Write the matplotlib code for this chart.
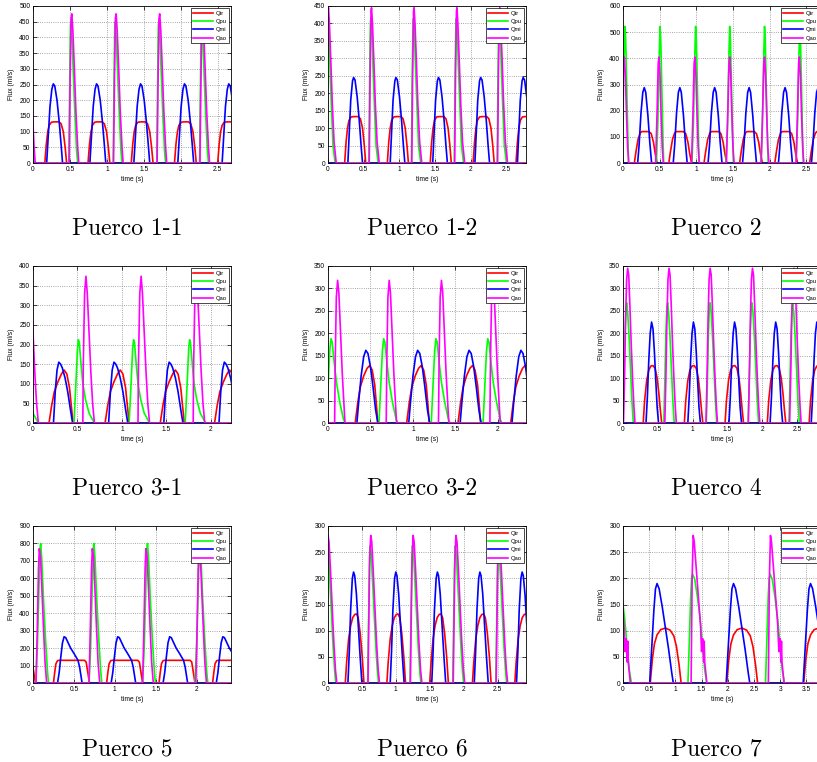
import numpy as np
import matplotlib
matplotlib.use("Agg")
import matplotlib.pyplot as plt
from matplotlib.ticker import FuncFormatter, MultipleLocator

# ---- data: one pulse shape per signal (time from onset, flux) + pulse onsets ----
names = ["Qtr", "Qpu", "Qmi", "Qao"]
colors = ["#ff0000", "#00ff00", "#0000ff", "#ff00ff"]
captions = ["Puerco 1-1", "Puerco 1-2", "Puerco 2",
            "Puerco 3-1", "Puerco 3-2", "Puerco 4",
            "Puerco 5", "Puerco 6", "Puerco 7"]
xmax = [2.68, 2.77, 2.70, 2.225, 2.33, 2.84, 2.42, 2.92, 3.78]
ymax = [500, 450, 600, 400, 350, 350, 900, 300, 300]
ystep = [50, 50, 100, 50, 50, 50, 100, 50, 50]

# Puerco 1-1
p1_tr_t = [0, 0.02, 0.04, 0.06, 0.09, 0.13, 0.19, 0.22, 0.25, 0.275, 0.295]
p1_tr_v = [0, 60, 100, 120, 130, 131, 131, 125, 100, 50, 0]
p1_tr_on = [0.16, 0.745, 1.33, 1.915, 2.50]
p1_pu_t = [0, 0.01, 0.022, 0.03, 0.045, 0.065, 0.085, 0.105, 0.12]
p1_pu_v = [0, 220, 440, 450, 380, 260, 140, 40, 0]
p1_pu_on = [-0.105, 0.485, 1.085, 1.675, 2.255]
p1_mi_t = [0, 0.02, 0.045, 0.07, 0.09, 0.11, 0.14, 0.17, 0.195, 0.215]
p1_mi_v = [0, 80, 180, 235, 252, 245, 200, 130, 60, 0]
p1_mi_on = [0.185, 0.77, 1.365, 1.96, 2.56]
p1_ao_t = [0, 0.012, 0.025, 0.035, 0.05, 0.07, 0.09, 0.115, 0.13]
p1_ao_v = [0, 250, 460, 475, 420, 300, 170, 50, 0]
p1_ao_on = [-0.1, 0.49, 1.09, 1.68, 2.26]

# Puerco 1-2
p2_tr_t = [0, 0.02, 0.04, 0.06, 0.09, 0.13, 0.19, 0.22, 0.25, 0.275, 0.295]
p2_tr_v = [0, 60, 100, 122, 132, 133, 133, 127, 100, 50, 0]
p2_tr_on = [0.233, 0.83, 1.43, 2.03, 2.63]
p2_pu_t = [0, 0.01, 0.022, 0.03, 0.042, 0.06, 0.08, 0.1, 0.13]
p2_pu_v = [0, 230, 405, 415, 370, 260, 150, 50, 0]
p2_pu_on = [-0.03, 0.572, 1.167, 1.767, 2.367]
p2_mi_t = [0, 0.02, 0.04, 0.065, 0.08, 0.1, 0.13, 0.16, 0.185, 0.205]
p2_mi_v = [0, 90, 180, 235, 245, 238, 190, 120, 50, 0]
p2_mi_on = [0.278, 0.87, 1.465, 2.055, 2.65]
p2_ao_t = [0, 0.012, 0.025, 0.032, 0.045, 0.065, 0.085, 0.11, 0.14]
p2_ao_v = [0, 250, 435, 445, 400, 290, 170, 60, 0]
p2_ao_on = [-0.025, 0.577, 1.172, 1.772, 2.372]

# Puerco 2
p3_tr_t = [0, 0.02, 0.05, 0.08, 0.1, 0.2, 0.23, 0.26, 0.285, 0.31]
p3_tr_v = [0, 40, 90, 115, 120, 120, 112, 80, 35, 0]
p3_tr_on = [0.155, 0.625, 1.105, 1.59, 2.07, 2.545]
p3_pu_t = [0, 0.02, 0.04, 0.05, 0.06, 0.075, 0.09, 0.1]
p3_pu_v = [0, 150, 420, 522, 470, 280, 90, 0]
p3_pu_on = [-0.023, 0.455, 0.94, 1.405, 1.88, 2.36]
p3_mi_t = [0, 0.02, 0.045, 0.07, 0.09, 0.11, 0.14, 0.165, 0.19]
p3_mi_v = [0, 70, 190, 270, 288, 270, 180, 80, 0]
p3_mi_on = [0.2, 0.685, 1.16, 1.63, 2.12, 2.57]
p3_ao_t = [0, 0.02, 0.035, 0.045, 0.06, 0.075, 0.09, 0.105]
p3_ao_v = [0, 200, 380, 405, 330, 180, 60, 0]
p3_ao_on = [-0.027, 0.445, 0.935, 1.41, 1.885, 2.36]

# Puerco 3-1
p4_tr_t = [0, 0.03, 0.06, 0.1, 0.14, 0.17, 0.2, 0.23, 0.25, 0.27]
p4_tr_v = [0, 45, 80, 105, 125, 135, 125, 90, 45, 0]
p4_tr_on = [0.18, 0.81, 1.43, 2.04]
p4_pu_t = [0, 0.02, 0.04, 0.05, 0.06, 0.08, 0.1, 0.13, 0.17, 0.23]
p4_pu_v = [0, 90, 190, 212, 205, 150, 100, 60, 25, 0]
p4_pu_on = [-0.17, 0.46, 1.08, 1.71]
p4_mi_t = [0, 0.02, 0.04, 0.06, 0.08, 0.1, 0.13, 0.16, 0.19, 0.215]
p4_mi_v = [0, 80, 135, 155, 150, 140, 115, 80, 35, 0]
p4_mi_on = [0.23, 0.85, 1.47, 2.09]
p4_ao_t = [0, 0.005, 0.02, 0.035, 0.05, 0.07, 0.09, 0.11, 0.13]
p4_ao_v = [0, 150, 330, 374, 330, 230, 130, 50, 0]
p4_ao_on = [-0.07, 0.56, 1.18, 1.80]

# Puerco 3-2
p5_tr_t = [0, 0.03, 0.06, 0.1, 0.14, 0.17, 0.2, 0.23, 0.25, 0.266]
p5_tr_v = [0, 45, 80, 105, 122, 128, 118, 85, 40, 0]
p5_tr_on = [0.32, 0.926, 1.53, 2.15]
p5_pu_t = [0, 0.02, 0.04, 0.055, 0.07, 0.09, 0.12, 0.16, 0.2, 0.22]
p5_pu_v = [0, 80, 160, 188, 180, 140, 90, 45, 10, 0]
p5_pu_on = [-0.02, 0.60, 1.215, 1.825]
p5_mi_t = [0, 0.02, 0.05, 0.08, 0.105, 0.13, 0.16, 0.19, 0.22, 0.246]
p5_mi_v = [0, 45, 105, 148, 162, 155, 125, 80, 30, 0]
p5_mi_on = [0.34, 0.95, 1.555, 2.165]
p5_ao_t = [0, 0.008, 0.02, 0.035, 0.05, 0.07, 0.09, 0.11, 0.122]
p5_ao_v = [0, 150, 280, 318, 290, 200, 110, 40, 0]
p5_ao_on = [0.078, 0.685, 1.30, 1.905]

# Puerco 4
p6_tr_t = [0, 0.02, 0.05, 0.08, 0.11, 0.14, 0.17, 0.2, 0.225, 0.245, 0.265]
p6_tr_v = [0, 50, 95, 118, 127, 128, 122, 100, 65, 30, 0]
p6_tr_on = [0.29, 0.88, 1.464, 2.07, 2.67]
p6_pu_t = [0, 0.015, 0.03, 0.045, 0.055, 0.07, 0.09, 0.11, 0.13, 0.15]
p6_pu_v = [0, 90, 200, 260, 268, 245, 190, 120, 50, 0]
p6_pu_on = [-0.002, 0.585, 1.195, 1.795, 2.38]
p6_mi_t = [0, 0.02, 0.04, 0.06, 0.08, 0.1, 0.12, 0.14, 0.16, 0.18]
p6_mi_v = [0, 60, 140, 200, 225, 210, 160, 95, 35, 0]
p6_mi_on = [0.33, 0.93, 1.52, 2.11, 2.70]
p6_ao_t = [0, 0.015, 0.03, 0.045, 0.06, 0.075, 0.09, 0.11, 0.13, 0.15, 0.165]
p6_ao_v = [0, 100, 230, 320, 345, 330, 270, 180, 100, 35, 0]
p6_ao_on = [0.007, 0.60, 1.19, 1.797, 2.39]

# Puerco 5
p7_tr_t = [0, 0.015, 0.03, 0.05, 0.07, 0.38, 0.4, 0.42, 0.44]
p7_tr_v = [0, 60, 110, 128, 130, 130, 120, 60, 0]
p7_tr_on = [-0.41, 0.25, 0.90, 1.54, 2.195]
p7_pu_t = [0, 0.02, 0.04, 0.055, 0.061, 0.075, 0.095, 0.12, 0.145, 0.157]
p7_pu_v = [0, 200, 550, 780, 800, 700, 480, 250, 60, 0]
p7_pu_on = [0.033, 0.684, 1.339, 1.979]
p7_mi_t = [0, 0.02, 0.04, 0.06, 0.08, 0.1, 0.13, 0.16, 0.2, 0.25, 0.27, 0.3]
p7_mi_v = [0, 60, 150, 230, 265, 260, 230, 200, 170, 130, 90, 0]
p7_mi_on = [0.30, 0.955, 1.59, 2.24]
p7_ao_t = [0, 0.015, 0.03, 0.04, 0.055, 0.07, 0.09, 0.11, 0.13]
p7_ao_v = [0, 300, 650, 770, 720, 560, 330, 120, 0]
p7_ao_on = [0.037, 0.685, 1.34, 1.99]

# Puerco 6
p8_tr_t = [0, 0.02, 0.05, 0.08, 0.11, 0.14, 0.165, 0.19, 0.22, 0.25, 0.275]
p8_tr_v = [0, 40, 85, 110, 125, 131, 132, 125, 95, 50, 0]
p8_tr_on = [0.255, 0.868, 1.5, 2.13, 2.755]
p8_pu_t = [0, 0.012, 0.025, 0.035, 0.05, 0.07, 0.095, 0.12, 0.145, 0.16]
p8_pu_v = [0, 110, 220, 262, 250, 200, 135, 70, 20, 0]
p8_pu_on = [-0.045, 0.585, 1.21, 1.84, 2.475]
p8_mi_t = [0, 0.02, 0.04, 0.065, 0.083, 0.1, 0.125, 0.15, 0.18, 0.206]
p8_mi_v = [0, 60, 140, 200, 212, 205, 170, 115, 50, 0]
p8_mi_on = [0.294, 0.917, 1.53, 2.157, 2.78]
p8_ao_t = [0, 0.012, 0.025, 0.04, 0.055, 0.075, 0.1, 0.125, 0.15, 0.17]
p8_ao_v = [0, 120, 240, 282, 270, 220, 150, 80, 25, 0]
p8_ao_on = [-0.04, 0.59, 1.215, 1.847, 2.48]

# Puerco 7
p9_tr_t = [0, 0.04, 0.08, 0.13, 0.2, 0.29, 0.38, 0.45, 0.5, 0.55, 0.59]
p9_tr_v = [0, 45, 75, 92, 102, 105, 101, 90, 70, 35, 0]
p9_tr_on = [0.52, 1.98, 3.45]
p9_pu_t = [0, 0.02, 0.05, 0.07, 0.09, 0.13, 0.18, 0.23, 0.28, 0.32, 0.36]
p9_pu_v = [0, 60, 160, 200, 208, 198, 165, 125, 70, 25, 0]
p9_pu_on = [-0.2, 1.24, 2.72]
p9_mi_t = [0, 0.04, 0.08, 0.11, 0.14, 0.18, 0.24, 0.3, 0.36, 0.42, 0.45]
p9_mi_v = [0, 70, 140, 180, 190, 180, 145, 105, 65, 20, 0]
p9_mi_on = [0.51, 1.97, 3.44]
p9_ao_t = [0, 0.02, 0.04, 0.06, 0.09, 0.12, 0.15, 0.18, 0.2, 0.22, 0.24, 0.25, 0.26, 0.3]
p9_ao_v = [0, 200, 282, 270, 230, 190, 150, 110, 60, 85, 40, 80, 40, 0]
p9_ao_on = [-0.16, 1.30, 2.775]

panels = [
    [(p1_tr_t, p1_tr_v, p1_tr_on), (p1_pu_t, p1_pu_v, p1_pu_on), (p1_mi_t, p1_mi_v, p1_mi_on), (p1_ao_t, p1_ao_v, p1_ao_on)],
    [(p2_tr_t, p2_tr_v, p2_tr_on), (p2_pu_t, p2_pu_v, p2_pu_on), (p2_mi_t, p2_mi_v, p2_mi_on), (p2_ao_t, p2_ao_v, p2_ao_on)],
    [(p3_tr_t, p3_tr_v, p3_tr_on), (p3_pu_t, p3_pu_v, p3_pu_on), (p3_mi_t, p3_mi_v, p3_mi_on), (p3_ao_t, p3_ao_v, p3_ao_on)],
    [(p4_tr_t, p4_tr_v, p4_tr_on), (p4_pu_t, p4_pu_v, p4_pu_on), (p4_mi_t, p4_mi_v, p4_mi_on), (p4_ao_t, p4_ao_v, p4_ao_on)],
    [(p5_tr_t, p5_tr_v, p5_tr_on), (p5_pu_t, p5_pu_v, p5_pu_on), (p5_mi_t, p5_mi_v, p5_mi_on), (p5_ao_t, p5_ao_v, p5_ao_on)],
    [(p6_tr_t, p6_tr_v, p6_tr_on), (p6_pu_t, p6_pu_v, p6_pu_on), (p6_mi_t, p6_mi_v, p6_mi_on), (p6_ao_t, p6_ao_v, p6_ao_on)],
    [(p7_tr_t, p7_tr_v, p7_tr_on), (p7_pu_t, p7_pu_v, p7_pu_on), (p7_mi_t, p7_mi_v, p7_mi_on), (p7_ao_t, p7_ao_v, p7_ao_on)],
    [(p8_tr_t, p8_tr_v, p8_tr_on), (p8_pu_t, p8_pu_v, p8_pu_on), (p8_mi_t, p8_mi_v, p8_mi_on), (p8_ao_t, p8_ao_v, p8_ao_on)],
    [(p9_tr_t, p9_tr_v, p9_tr_on), (p9_pu_t, p9_pu_v, p9_pu_on), (p9_mi_t, p9_mi_v, p9_mi_on), (p9_ao_t, p9_ao_v, p9_ao_on)],
]


def pulse_train(shape_t, shape_v, onsets, tend):
    # repeat the read pulse shape at each onset, flat zero in between
    t = [-1.0]
    v = [0.0]
    for t0 in onsets:
        t += [t0 + s for s in shape_t]
        v += list(shape_v)
    t.append(tend + 1)
    v.append(0.0)
    return t, v


W, H = 817, 762
fig = plt.figure(figsize=(W / 100, H / 100), dpi=100)
plt.rcParams['font.family'] = ['Liberation Sans', 'DejaVu Sans']

col_left = [33, 328, 623]
row_bottom = [163, 423, 683]
ax_w, ax_h = 198, 157
cap_x = [127, 422, 716]
cap_base = [235, 495, 755]

fmt = FuncFormatter(lambda x, pos: "%g" % x)

for i in range(9):
    r, c = divmod(i, 3)
    ax = fig.add_axes([col_left[c] / W, 1 - row_bottom[r] / H, ax_w / W, ax_h / H])
    for k in range(4):
        st, sv, on = panels[i][k]
        t, v = pulse_train(st, sv, on, xmax[i])
        ax.plot(t, v, color=colors[k], lw=1.2, label=names[k])
    ax.set_xlim(0, xmax[i])
    ax.set_ylim(0, ymax[i])
    ax.xaxis.set_major_locator(MultipleLocator(0.5))
    ax.yaxis.set_major_locator(MultipleLocator(ystep[i]))
    ax.xaxis.set_major_formatter(fmt)
    ax.grid(True, linestyle=':', color='#888888', lw=0.6)
    ax.tick_params(direction='in', top=True, right=True, length=3, width=0.5,
                   labelsize=4.8, pad=2)
    for sp in ax.spines.values():
        sp.set_linewidth(0.6)
    ax.set_xlabel("time (s)", fontsize=4.8, labelpad=2)
    ax.set_ylabel("Flux (ml/s)", fontsize=4.8, labelpad=3)
    leg = ax.legend(loc='upper right', fontsize=4.2, fancybox=False, framealpha=1,
                    edgecolor='black', handlelength=3.4, labelspacing=0.55,
                    borderaxespad=0.4, borderpad=0.4, handletextpad=0.4)
    leg.get_frame().set_linewidth(0.5)
    fig.text(cap_x[c] / W, 1 - cap_base[r] / H, captions[i], family='cmr10',
             fontsize=17, ha='center', va='baseline')

fig.savefig("out.png", dpi=100)
